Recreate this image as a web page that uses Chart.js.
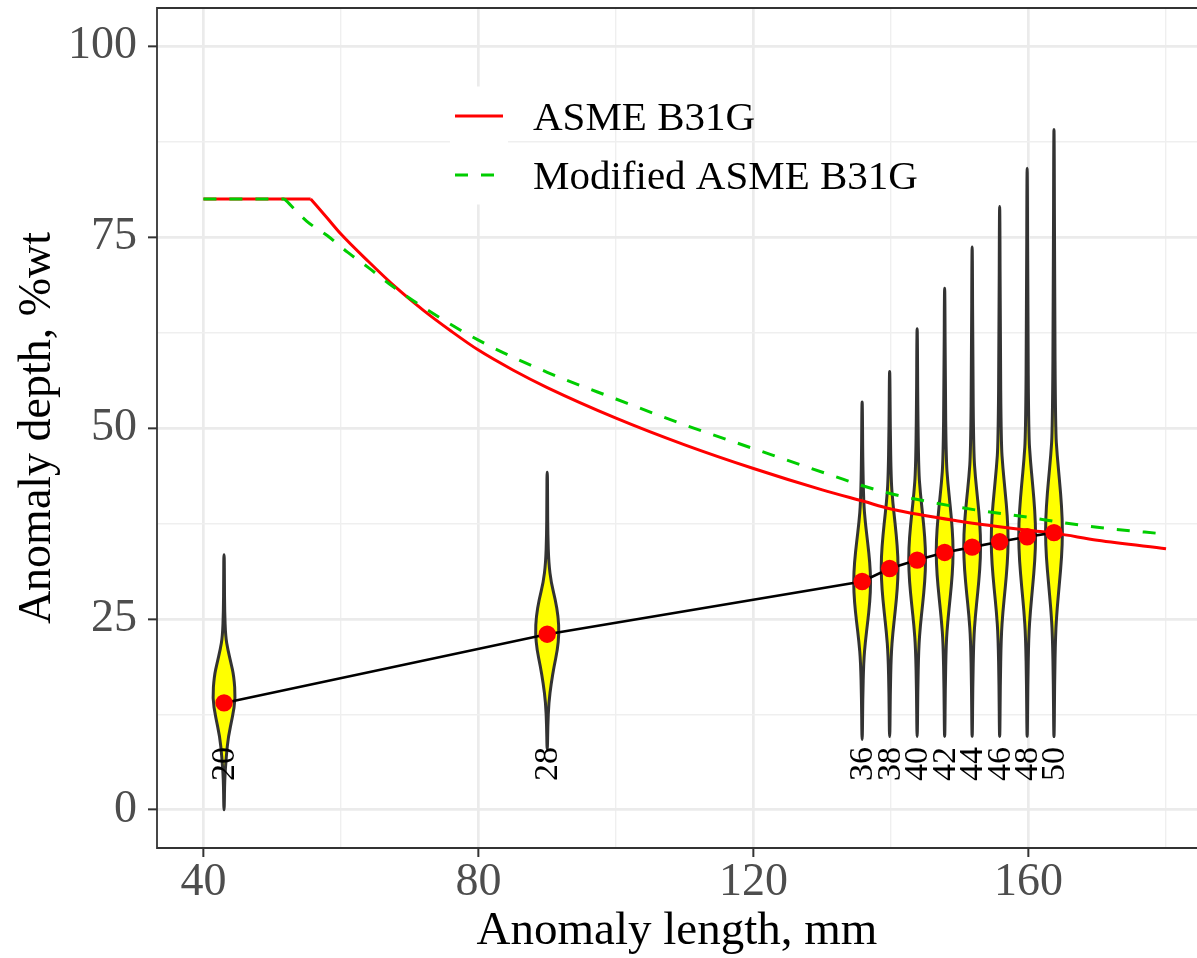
<!DOCTYPE html>
<html>
<head>
<meta charset="utf-8">
<script src="https://cdn.jsdelivr.net/npm/chart.js@4.4.1/dist/chart.umd.min.js"></script>
<style>
  html, body { margin: 0; padding: 0; background: #fff; overflow: hidden; }
  #wrap { width: 1197px; height: 958px; position: relative; }
</style>
</head>
<body>
<div id="wrap"><canvas id="chart"></canvas></div>
<script>
// violins: label, anomaly length (mm) and mean depth (%wt)
const violinLabels = ["20", "28", "36", "38", "40", "42", "44", "46", "48", "50"];
const violinX = [43.0, 90.0, 135.8, 139.8, 143.8, 147.8, 151.8, 155.8, 159.8, 163.7];
const violinMean = [14.0, 23.0, 29.9, 31.6, 32.7, 33.7, 34.4, 35.1, 35.75, 36.3];

// outline of each violin: depth points and relative density there
const violinDepth = [
  [0, 4, 7, 9.6, 12.2, 14.6, 17.5, 19.2, 21, 22.7, 26, 30, 33.4],
  [8, 11, 14.0, 16.6, 18.8, 20.9, 23.1, 25.3, 27.5, 29.7, 32.3, 36, 40, 44.2],
  [9.2, 14.5, 19.4, 22.0, 24.6, 27.2, 29.8, 32.4, 35.0, 37.6, 40.2, 46.0, 53.4],
  [9.6, 15.0, 20.4, 23.2, 26.0, 28.9, 31.7, 34.5, 37.4, 40.2, 43.0, 50.0, 57.4],
  [9.6, 15.4, 21.2, 24.1, 27.0, 29.9, 32.8, 35.7, 38.6, 41.5, 44.4, 53.0, 63.0],
  [9.6, 15.7, 21.9, 24.8, 27.8, 30.8, 33.8, 36.8, 39.8, 42.8, 45.8, 56.0, 68.3],
  [9.6, 16.0, 22.3, 25.4, 28.4, 31.5, 34.5, 37.6, 40.6, 43.6, 46.7, 59.0, 73.7],
  [9.6, 16.2, 22.7, 25.9, 29.0, 32.2, 35.3, 38.5, 41.6, 44.8, 47.9, 62.0, 79.0],
  [9.6, 16.2, 22.7, 26.0, 29.3, 32.6, 35.9, 39.2, 42.5, 45.8, 49.1, 65.0, 84.0],
  [9.6, 16.4, 23.1, 26.4, 29.8, 33.1, 36.4, 39.7, 43.1, 46.4, 49.7, 68.0, 89.1]
];
const violinDensity = [
  [0.02, 0.05, 0.19, 0.36, 0.72, 0.97, 0.83, 0.59, 0.32, 0.13, 0.05, 0.03, 0.02],
  [0.02, 0.05, 0.13, 0.34, 0.58, 0.86, 1.0, 0.93, 0.69, 0.34, 0.13, 0.05, 0.03, 0.02],
  [0.02, 0.05, 0.13, 0.27, 0.47, 0.65, 0.73, 0.65, 0.47, 0.27, 0.13, 0.05, 0.02],
  [0.02, 0.05, 0.13, 0.27, 0.47, 0.65, 0.73, 0.65, 0.47, 0.27, 0.13, 0.05, 0.02],
  [0.02, 0.05, 0.13, 0.27, 0.47, 0.65, 0.73, 0.65, 0.47, 0.27, 0.13, 0.05, 0.02],
  [0.02, 0.05, 0.13, 0.27, 0.47, 0.65, 0.73, 0.65, 0.47, 0.27, 0.13, 0.05, 0.02],
  [0.02, 0.05, 0.13, 0.27, 0.47, 0.65, 0.73, 0.65, 0.47, 0.27, 0.13, 0.05, 0.02],
  [0.02, 0.05, 0.13, 0.27, 0.47, 0.65, 0.73, 0.65, 0.47, 0.27, 0.13, 0.05, 0.02],
  [0.02, 0.05, 0.13, 0.27, 0.47, 0.65, 0.73, 0.65, 0.47, 0.27, 0.13, 0.05, 0.02],
  [0.02, 0.05, 0.13, 0.27, 0.47, 0.65, 0.73, 0.65, 0.47, 0.27, 0.13, 0.05, 0.02]
];

// ASME B31G and modified B31G limit curves (flat 80 %wt cap first)
const b31gLength = [40, 55.6, 58, 60, 64, 68, 72, 76, 80, 85, 90, 100, 110, 120, 130, 136, 140, 150, 160, 164, 170, 180];
const b31gDepth = [80, 80, 77.5, 75.4, 71.8, 68.4, 65.4, 62.7, 60.2, 57.6, 55.3, 51.3, 47.8, 44.7, 41.9, 40.4, 39.4, 37.8, 36.6, 36.2, 35.3, 34.2];
const modLength = [40, 51.8, 55, 58, 61, 64, 67, 72, 80, 90, 100, 110, 120, 133, 136, 140, 150, 160, 165, 170, 180];
const modDepth = [80, 80, 77.1, 75.2, 73.0, 71.0, 68.9, 65.8, 61.5, 57.3, 53.8, 50.4, 47.3, 43.3, 42.4, 41.4, 39.6, 38.3, 37.6, 37.0, 36.1];

const xTicks = [40, 60, 80, 100, 120, 140, 160, 180];
const xMajor = [40, 80, 120, 160];
const yTicks = [0, 12.5, 25, 37.5, 50, 62.5, 75, 87.5, 100];
const yMajor = [0, 25, 50, 75, 100];

const SERIF = "'Liberation Serif', 'Times New Roman', serif";
const VIOLIN_HALF = 1.72;   // half width (mm) for density 1
const LABEL_DEPTH = 6;

function gridColor(major) {
  return c => (c.tick && major.includes(c.tick.value)) ? '#EBEBEB' : '#EFEFEF';
}
function gridWidth(major) {
  return c => (c.tick && major.includes(c.tick.value)) ? 2.7 : 1.4;
}
function tickCol(major) {
  return c => (c.tick && major.includes(c.tick.value)) ? '#333333' : 'rgba(0,0,0,0)';
}

function points(xs, ys, from, to) {
  return xs.slice(from, to).map((v, i) => ({ x: v, y: ys[from + i] }));
}

// smooth closed path through the midpoints
function smoothPath(ctx, pts) {
  const n = pts.length;
  const mid = (a, b) => [(a[0] + b[0]) / 2, (a[1] + b[1]) / 2];
  let m = mid(pts[n - 1], pts[0]);
  ctx.moveTo(m[0], m[1]);
  for (let i = 0; i < n; i++) {
    const p = pts[i];
    const m2 = mid(p, pts[(i + 1) % n]);
    ctx.quadraticCurveTo(p[0], p[1], m2[0], m2[1]);
  }
  ctx.closePath();
}

const violinPlugin = {
  id: 'violins',
  beforeDatasetsDraw(chart) {
    const { ctx, scales: { x, y } } = chart;
    ctx.save();
    // legend key backgrounds
    ctx.fillStyle = '#FFFFFF';
    ctx.fillRect(450, 86.5, 58, 118);

    violinX.forEach((vx, i) => {
      const depth = violinDepth[i];
      const dens = violinDensity[i];
      const pts = [];
      for (let j = 0; j < depth.length; j++) {
        pts.push([x.getPixelForValue(vx + dens[j] * VIOLIN_HALF), y.getPixelForValue(depth[j])]);
      }
      for (let j = depth.length - 1; j >= 0; j--) {
        pts.push([x.getPixelForValue(vx - dens[j] * VIOLIN_HALF), y.getPixelForValue(depth[j])]);
      }
      ctx.beginPath();
      smoothPath(ctx, pts);
      ctx.fillStyle = '#FFFF00';
      ctx.fill();
      ctx.lineWidth = 3;
      ctx.lineJoin = 'round';
      ctx.strokeStyle = '#333333';
      ctx.stroke();
    });

    // legend
    ctx.lineWidth = 3;
    ctx.lineCap = 'butt';
    ctx.strokeStyle = '#FF0000';
    ctx.beginPath();
    ctx.moveTo(455, 116);
    ctx.lineTo(503, 116);
    ctx.stroke();
    ctx.strokeStyle = '#00CD00';
    ctx.setLineDash([13, 13]);
    ctx.beginPath();
    ctx.moveTo(455, 175);
    ctx.lineTo(503, 175);
    ctx.stroke();
    ctx.setLineDash([]);
    ctx.fillStyle = '#000000';
    ctx.font = '41px ' + SERIF;
    ctx.textAlign = 'left';
    ctx.textBaseline = 'alphabetic';
    ctx.fillText('ASME B31G', 533, 130);
    ctx.fillText('Modified ASME B31G', 533, 189);
    ctx.restore();
  },
  afterDatasetsDraw(chart) {
    const { ctx, scales: { x, y } } = chart;
    ctx.save();
    ctx.fillStyle = '#000000';
    ctx.font = '34px ' + SERIF;
    ctx.textAlign = 'center';
    ctx.textBaseline = 'middle';
    violinLabels.forEach((lab, i) => {
      ctx.save();
      ctx.translate(x.getPixelForValue(violinX[i]), y.getPixelForValue(LABEL_DEPTH));
      ctx.rotate(-Math.PI / 2);
      ctx.fillText(lab, 0, 1);
      ctx.restore();
    });
    ctx.restore();
  },
  afterDraw(chart) {
    const { ctx, chartArea: a } = chart;
    ctx.save();
    ctx.strokeStyle = '#333333';
    ctx.lineWidth = 1.8;
    ctx.beginPath();
    ctx.moveTo(a.right + 5, a.top);
    ctx.lineTo(a.left, a.top);
    ctx.lineTo(a.left, a.bottom);
    ctx.lineTo(a.right + 5, a.bottom);
    ctx.stroke();
    ctx.restore();
  }
};

const redStyle = { showLine: true, borderColor: '#FF0000', borderWidth: 3, pointRadius: 0, order: 2 };
const greenStyle = { showLine: true, borderColor: '#00CD00', borderWidth: 3, borderDash: [13, 13], pointRadius: 0, order: 1 };

new Chart(document.getElementById('chart'), {
  type: 'scatter',
  data: {
    datasets: [
      {
        label: 'Mean',
        data: violinX.map((v, i) => ({ x: v, y: violinMean[i] })),
        showLine: true,
        borderColor: '#000000',
        borderWidth: 2.6,
        pointRadius: 8.7,
        pointBackgroundColor: '#FF0000',
        pointBorderColor: '#FF0000',
        pointBorderWidth: 0,
        order: 0
      },
      { label: 'Modified ASME B31G', data: points(modLength, modDepth, 0, 2), ...greenStyle },
      { label: 'Modified ASME B31G', data: points(modLength, modDepth, 1), cubicInterpolationMode: 'monotone', ...greenStyle },
      { label: 'ASME B31G', data: points(b31gLength, b31gDepth, 0, 2), ...redStyle },
      { label: 'ASME B31G', data: points(b31gLength, b31gDepth, 1), cubicInterpolationMode: 'monotone', ...redStyle }
    ]
  },
  options: {
    responsive: true,
    maintainAspectRatio: false,
    animation: false,
    layout: { autoPadding: false, padding: { top: 8, left: 0, right: 0, bottom: 0 } },
    plugins: { legend: { display: false }, tooltip: { enabled: false } },
    scales: {
      x: {
        type: 'linear',
        min: 33.25,
        max: 184.5,
        afterBuildTicks: s => { s.ticks = xTicks.map(v => ({ value: v })); },
        afterFit: s => { s.height = 110; s.paddingLeft = 0; s.paddingRight = 0; },
        ticks: {
          autoSkip: false,
          maxRotation: 0,
          padding: 3,
          color: '#4D4D4D',
          font: { family: SERIF, size: 46, lineHeight: 1 },
          callback: v => xMajor.includes(v) ? String(v) : ''
        },
        grid: {
          color: gridColor(xMajor),
          lineWidth: gridWidth(xMajor),
          tickColor: tickCol(xMajor),
          tickWidth: 2,
          tickLength: 9
        },
        border: { display: false },
        title: {
          display: true,
          text: 'Anomaly length, mm',
          color: '#000000',
          font: { family: SERIF, size: 47, lineHeight: 1 },
          padding: { top: 0, bottom: 3 }
        }
      },
      y: {
        type: 'linear',
        min: -5,
        max: 105,
        afterBuildTicks: s => { s.ticks = yTicks.map(v => ({ value: v })); },
        afterFit: s => { s.width = 157; s.paddingTop = 0; s.paddingBottom = 0; },
        ticks: {
          autoSkip: false,
          padding: 11,
          color: '#4D4D4D',
          font: { family: SERIF, size: 46, lineHeight: 1 },
          callback: v => yMajor.includes(v) ? String(v) : ''
        },
        grid: {
          color: gridColor(yMajor),
          lineWidth: gridWidth(yMajor),
          tickColor: tickCol(yMajor),
          tickWidth: 2,
          tickLength: 9
        },
        border: { display: false },
        title: {
          display: true,
          text: 'Anomaly depth, %wt',
          color: '#000000',
          font: { family: SERIF, size: 46, lineHeight: 1 },
          padding: { top: 15, bottom: 0 }
        }
      }
    }
  },
  plugins: [violinPlugin]
});
</script>
</body>
</html>
